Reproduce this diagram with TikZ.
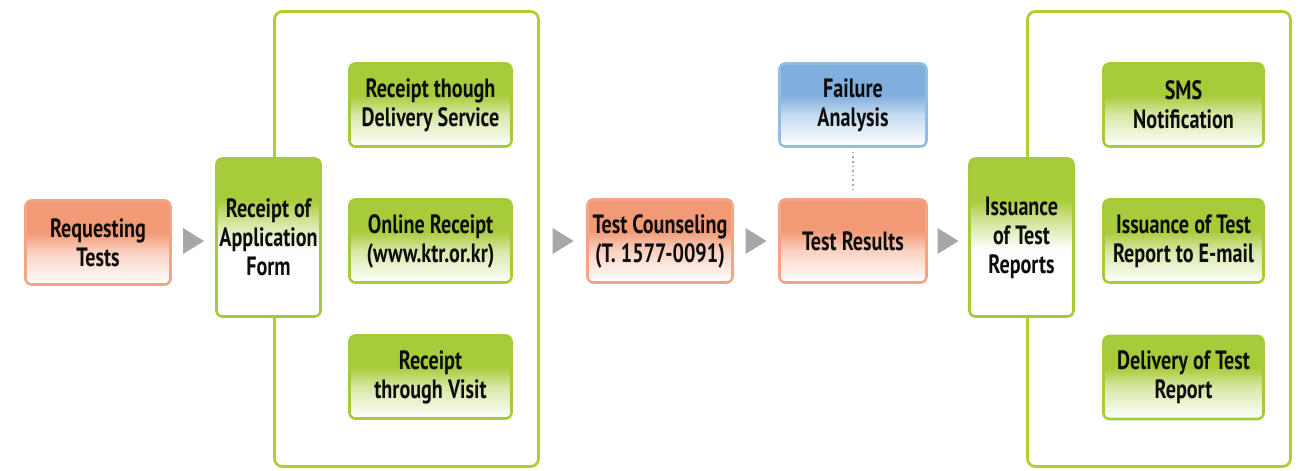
\documentclass[tikz,border=0pt]{standalone}
\usepackage{fontspec}
\setmainfont[FakeStretch=0.76]{PT Sans}
\usetikzlibrary{calc}
\definecolor{gtop}{HTML}{A8CB3A}
\definecolor{gbord}{HTML}{A6CA3A}
\definecolor{gline}{HTML}{AECF30}
\definecolor{otop}{HTML}{F29A76}
\definecolor{obord}{HTML}{F4A384}
\definecolor{btop}{HTML}{80AEDD}
\definecolor{bbord}{HTML}{92BCE4}
\definecolor{agray}{HTML}{A5A7A8}
\definecolor{dgray}{HTML}{A8A8A8}
\pgfdeclareverticalshading{gS}{100bp}{color(0bp)=(white); color(25bp)=(white); color(44bp)=(gtop!45!white); color(56bp)=(gtop); color(100bp)=(gtop)}
\pgfdeclareverticalshading{gT}{100bp}{color(0bp)=(white); color(46bp)=(white); color(55bp)=(gtop!50!white); color(62bp)=(gtop); color(100bp)=(gtop)}
\pgfdeclareverticalshading{oS}{100bp}{color(0bp)=(white); color(25bp)=(white); color(44bp)=(otop!45!white); color(56bp)=(otop); color(100bp)=(otop)}
\pgfdeclareverticalshading{bS}{100bp}{color(0bp)=(white); color(25bp)=(white); color(44bp)=(btop!45!white); color(56bp)=(btop); color(100bp)=(btop)}
\begin{document}
\begin{tikzpicture}[x=1pt,y=1pt,
  box/.style={rounded corners=6pt, line width=2.6pt, align=center, text=black!95,
    inner sep=0pt, font=\fontsize{26.5}{29}\selectfont\bfseries, shade},
  obox/.style={box, draw=obord, shading=oS},
  gbox/.style={box, draw=gbord, shading=gS},
  gtall/.style={box, draw=gbord, shading=gT},
  bbox/.style={box, draw=bbord, shading=bS},
  container/.style={draw=gline, line width=2.8pt, rounded corners=8pt, fill=white, inner sep=0pt},
  tri/.style={fill=agray},
  dotline/.style={draw=dgray, line width=1.6pt, dash pattern=on 1.6pt off 3pt}
]
\useasboundingbox (0,0) rectangle (1302,-471);
\fill[white] (0,0) rectangle (1302,-471);

% containers
\node[container, minimum width=264pt, minimum height=455pt] (c1) at (406.5,-239) {};
\node[container, minimum width=263pt, minimum height=455pt] (c2) at (1159,-239) {};

% main flow
\node[obox, minimum width=145pt, minimum height=84pt] (req) at (98,-242.5) {Requesting\\Tests};
\node[gtall, minimum width=104pt, minimum height=158pt] (app) at (268.5,-237.5) {Receipt of\\Application\\Form};
\node[gbox, minimum width=162pt, minimum height=83pt] (del) at (430.5,-105) {Receipt though\\Delivery Service};
\node[gbox, minimum width=162pt, minimum height=83pt] (onl) at (430.5,-241) {Online Receipt\\(www.ktr.or.kr)};
\node[gbox, minimum width=162pt, minimum height=83pt] (vis) at (430.5,-377) {Receipt\\through Visit};
\node[obox, minimum width=145pt, minimum height=83pt] (cou) at (660,-241) {Test Counseling\\(T. 1577-0091)};
\node[obox, minimum width=147pt, minimum height=83pt] (res) at (853,-241) {Test Results};
\node[bbox, minimum width=147pt, minimum height=83pt] (fail) at (853,-105) {Failure\\Analysis};
\node[gtall, minimum width=104pt, minimum height=158pt] (iss) at (1021.5,-237.5) {Issuance\\of Test\\Reports};
\node[gbox, minimum width=160pt, minimum height=83pt] (sms) at (1183.5,-105) {SMS\\Notification};
\node[gbox, minimum width=160pt, minimum height=83pt] (ema) at (1183.5,-241) {Issuance of Test\\Report to E-mail};
\node[gbox, minimum width=160pt, minimum height=83pt] (dtr) at (1183.5,-377.5) {Delivery of Test\\Report};

% dotted link
\draw[dotline, shorten <=4pt, shorten >=5pt] (fail.south) -- (res.north);

% arrow markers
\coordinate (m1) at ($(req.east)!0.5!(app.west)$);
\coordinate (m2) at ($(c1.east)!0.5!(cou.west)$);
\coordinate (m3) at ($(cou.east)!0.5!(res.west)$);
\coordinate (m4) at ($(res.east)!0.5!(iss.west)$);
\foreach \m in {m1,m2,m3,m4}
  \fill[tri] ($(\m|-res.center)+(-10.5,13)$) -- ($(\m|-res.center)+(-10.5,-13)$) -- ($(\m|-res.center)+(10.5,0)$) -- cycle;
\end{tikzpicture}
\end{document}
